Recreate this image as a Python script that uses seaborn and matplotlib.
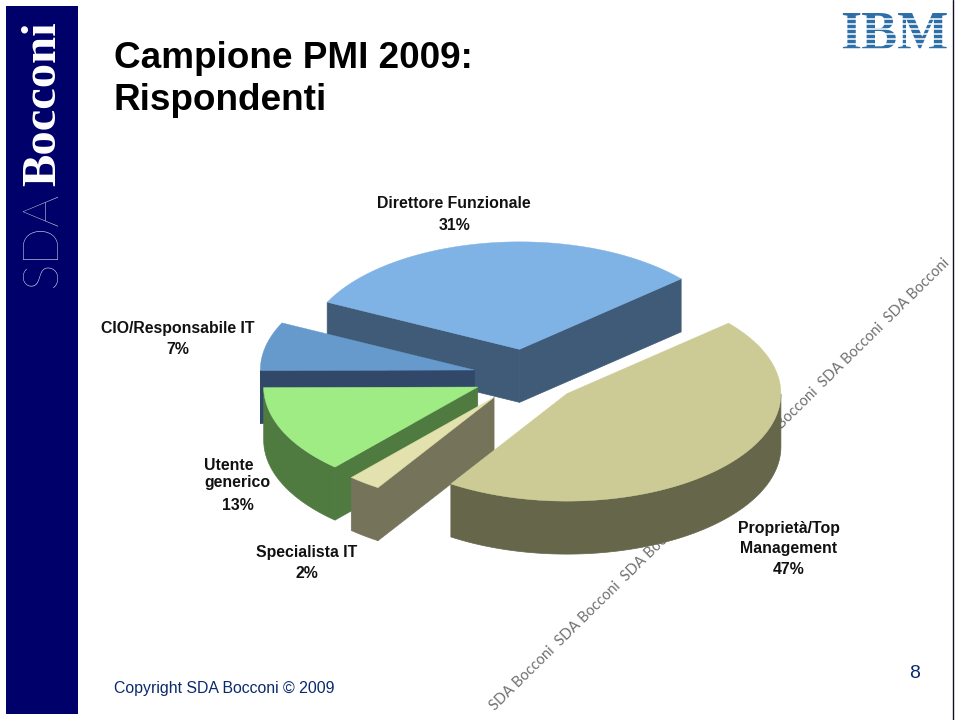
"""
Campione PMI 2009: exploded pseudo-3D pie on a slide background
"""

import matplotlib
matplotlib.use("Agg")
import matplotlib.pyplot as plt
import numpy as np
import seaborn as sns

# printed percentages
slice_names = ["Direttore Funzionale", "Proprietà/Top Management", "Specialista IT",
               "Utente generico", "CIO/Responsabile IT"]
label_pct = [31, 47, 2, 13, 7]
# size of each slice as drawn in the picture (perspective makes it differ from the label)
drawn_share = [31.4, 45.5, 2.5, 13.3, 7.3]

top_colors = ["#7FB2E5", "#CCCB95", "#E3E1AE", "#A0EC84", "#6699CC"]
side_colors = ["#3F5B78", "#66664A", "#75745A", "#4F7B41", "#324868"]

# pie geometry in slide pixels
CENTER = (526.5, 376)
RX, RY = 214, 107.5
DEPTH = 53
EXPLODE = 0.25
START_ANGLE = 154

NAVY = "#00006A"
TEXT_NAVY = "#0A2A6E"
FONT = "Liberation Sans"

sns.set_theme(style="white")
plt.rcParams["font.family"] = [FONT, "DejaVu Sans"]


def draw_slice(ax, start, end, top, side):
    """start > end, pie runs clockwise"""
    mid = np.radians((start + end) / 2)
    cx = CENTER[0] + EXPLODE * RX * np.cos(mid)
    cy = CENTER[1] - EXPLODE * RY * np.sin(mid)

    theta = np.radians(np.linspace(start, end, 120))
    rim_x = cx + RX * np.cos(theta)
    rim_y = cy - RY * np.sin(theta)

    # radial walls, only those whose normal points at the viewer
    for ang, px, py, sign in [(start, rim_x[0], rim_y[0], 1), (end, rim_x[-1], rim_y[-1], -1)]:
        if sign * np.cos(np.radians(ang)) < 0:
            ax.fill([cx, px, px, cx], [cy, py, py + DEPTH, cy + DEPTH],
                    color=side, lw=0.5, zorder=5)

    # outer rim, lower half only
    lower = np.sin(theta) <= 0
    if lower.any():
        ax.fill(np.r_[rim_x[lower], rim_x[lower][::-1]],
                np.r_[rim_y[lower], rim_y[lower][::-1] + DEPTH],
                color=side, lw=0.5, zorder=5)

    ax.fill(np.r_[cx, rim_x], np.r_[cy, rim_y], color=top, lw=0.3, zorder=5)


fig = plt.figure(figsize=(9.59, 7.2), dpi=100)
ax = fig.add_axes([0, 0, 1, 1])
ax.set_xlim(0, 959)
ax.set_ylim(720, 0)
ax.axis("off")

# slide frame
ax.fill([6, 78, 78, 6], [6, 6, 714, 714], color=NAVY, lw=0, zorder=1)
ax.plot([953, 953], [0, 720], color="#101028", lw=1.0, zorder=1)
ax.text(43, 288, "SDA", rotation=90, ha="center", va="bottom", color="#E8E8F0",
        fontsize=36, family="Lato", weight="light", zorder=2)
ax.text(43, 186, "Bocconi", rotation=90, ha="center", va="bottom", color="white",
        fontsize=35, family="Liberation Serif", weight="bold", zorder=2)

# IBM logo
ax.text(894, 36, "IBM", ha="center", va="center", color="#2F6FA8", fontsize=39,
        family="Liberation Serif", weight="bold", zorder=2)
for y in np.arange(18.5, 50, 5):
    ax.plot([838, 950], [y, y], color="white", lw=1.1, zorder=3)

# watermark, behind the pie
ax.text(492, 708, "SDA Bocconi  " * 7, rotation=44.5, rotation_mode="anchor",
        ha="left", va="center", color="#707070", fontsize=10.5, family="Lato", zorder=1)

# slices, back to front
sweeps = np.array(drawn_share) / sum(drawn_share) * 360
ends = START_ANGLE - np.cumsum(sweeps)
starts = ends + sweeps
for i in [0, 4, 3, 2, 1]:
    draw_slice(ax, starts[i], ends[i], top_colors[i], side_colors[i])

# text
ax.text(114, 58, "Campione PMI 2009:", fontsize=26.6, weight="bold", va="center", color="black", zorder=30)
ax.text(114, 100, "Rispondenti", fontsize=26.6, weight="bold", va="center", color="black", zorder=30)


def label(x, y, txt, ha="center"):
    ax.text(x, y, txt, fontsize=11.4, weight="bold", ha=ha, va="center", color="#111111", zorder=30)


label(454, 203, slice_names[0])
label(455, 225, f"{label_pct[0]}%")
label(178, 328, slice_names[4])
label(178, 349, f"{label_pct[4]}%")
label(204, 465, "Utente", ha="left")
label(204, 482, "generico", ha="left")
label(238, 506, f"{label_pct[3]}%")
label(307, 552, slice_names[2])
label(307, 573, f"{label_pct[2]}%")
label(789, 528, "Proprietà/Top")
label(789, 549, "Management")
label(789, 569, f"{label_pct[1]}%")

ax.text(114, 688, "Copyright SDA Bocconi © 2009", fontsize=11.4, va="center", color=TEXT_NAVY, zorder=30)
ax.text(915, 674, "8", fontsize=14, ha="center", va="center", color=TEXT_NAVY, zorder=30)

fig.savefig("out.png", dpi=100)
plt.close(fig)
